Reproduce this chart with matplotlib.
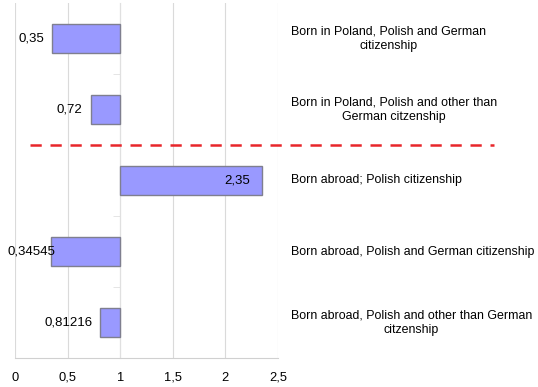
import numpy as np
import matplotlib.pyplot as plt

plt.rcParams['font.family'] = ['Liberation Sans', 'DejaVu Sans']

categories = ['Born in Poland, Polish and German\ncitizenship',
              'Born in Poland, Polish and other than\nGerman citzenship',
              'Born abroad; Polish citizenship',
              'Born abroad, Polish and German citizenship',
              'Born abroad, Polish and other than German\ncitzenship']
values = [0.35, 0.72, 2.35, 0.34545, 0.81216]
value_labels = ['0,35', '0,72', '2,35', '0,34545', '0,81216']
xticks = [0, 0.5, 1, 1.5, 2, 2.5]
xtick_labels = ['0', '0,5', '1', '1,5', '2', '2,5']

fig = plt.figure(figsize=(5.38, 3.87), dpi=100)
ax = fig.add_axes([15/538, 1 - 358/387, 263/538, 355/387])

y = np.arange(len(values))
vals = np.array(values)
ax.barh(y, vals - 1, left=1, height=0.41, color='#9999ff', edgecolor='#7f7f8f', linewidth=1, zorder=3)

ax.set_xlim(0, 2.5)
ax.set_ylim(len(values) - 0.5, -0.5)
ax.set_xticks(xticks)
ax.set_xticklabels(xtick_labels, fontsize=9.3)
ax.tick_params(axis='x', length=0, pad=10)
ax.grid(axis='x', color='#dadada', linewidth=0.8, zorder=0)

for s in ['top', 'right']:
    ax.spines[s].set_visible(False)
ax.spines['bottom'].set_color('#d0d0d0')
ax.spines['left'].set_position(('data', 1))
ax.spines['left'].set_color('#e0e0e0')
ax.set_yticks([])
ax.set_yticks(np.arange(0.5, len(values) - 0.5, 1), minor=True)
ax.tick_params(axis='y', which='minor', length=5, color='#e0e0e0')

renderer = fig.canvas.get_renderer()
for i, (v, lab) in enumerate(zip(values, value_labels)):
    if v >= 1:
        ax.annotate(lab, (v, i), xytext=(-12, 0), textcoords='offset pixels',
                    ha='right', va='center', fontsize=9.5, zorder=4)
    else:
        t = ax.annotate(lab, (v, i), xytext=(-8, 0), textcoords='offset pixels',
                        ha='right', va='center', fontsize=9.5, zorder=4)
        # keep label inside the figure, like the original does
        if t.get_window_extent(renderer).x0 < 5:
            t.remove()
            ax.annotate(lab, (0, i), xytext=(-8, 0), textcoords='offset pixels',
                        ha='left', va='center', fontsize=9.5, zorder=4)

for i, c in enumerate(categories):
    ax.text(2.62, i, c, ha='left', va='center', multialignment='center',
            fontsize=8.9, linespacing=1.3, clip_on=False)

# separator between born in Poland / born abroad
ax.plot([0.143, 4.55], [1.5, 1.5], color='#e8262b', linestyle=(0, (4.5, 3.5)),
        linewidth=1.8, clip_on=False, zorder=5)

fig.savefig('out.png', dpi=100)
